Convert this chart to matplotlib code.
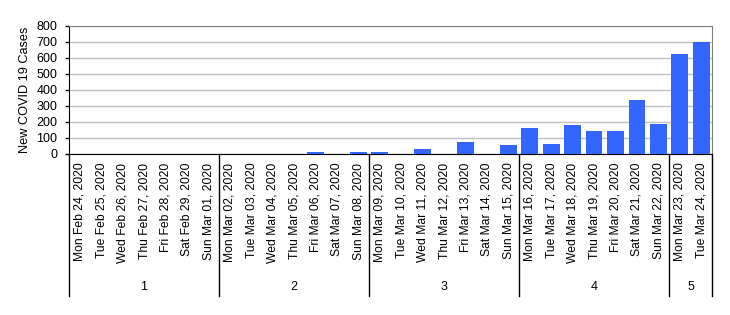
import matplotlib.pyplot as plt
from matplotlib.transforms import blended_transform_factory

plt.rcParams['font.family'] = ['Liberation Sans', 'DejaVu Sans']

# Datos
fechas = [
    'Mon Feb 24, 2020', 'Tue Feb 25, 2020', 'Wed Feb 26, 2020', 'Thu Feb 27, 2020',
    'Fri Feb 28, 2020', 'Sat Feb 29, 2020', 'Sun Mar 01, 2020',
    'Mon Mar 02, 2020', 'Tue Mar 03, 2020', 'Wed Mar 04, 2020', 'Thu Mar 05, 2020',
    'Fri Mar 06, 2020', 'Sat Mar 07, 2020', 'Sun Mar 08, 2020',
    'Mon Mar 09, 2020', 'Tue Mar 10, 2020', 'Wed Mar 11, 2020', 'Thu Mar 12, 2020',
    'Fri Mar 13, 2020', 'Sat Mar 14, 2020', 'Sun Mar 15, 2020',
    'Mon Mar 16, 2020', 'Tue Mar 17, 2020', 'Wed Mar 18, 2020', 'Thu Mar 19, 2020',
    'Fri Mar 20, 2020', 'Sat Mar 21, 2020', 'Sun Mar 22, 2020',
    'Mon Mar 23, 2020', 'Tue Mar 24, 2020',
]
casos = [0, 0, 0, 0, 0, 0, 0,
         0, 0, 0, 0, 7, 0, 7,
         7, 0, 26, 0, 71, 0, 53,
         160, 59, 179, 141, 141, 336, 185,
         626, 702]
semanas = ['1', '2', '3', '4', '5']
dias_por_semana = [7, 7, 7, 7, 2]

fig = plt.figure(figsize=(7.3, 3.15), dpi=100)
ax = fig.add_axes([69 / 730, 1 - 153.5 / 315, (712 - 69) / 730, 127.5 / 315])

x = list(range(len(fechas)))
ax.bar(x, casos, width=0.78, color='#3366FF', zorder=3)

ax.set_xlim(-0.5, len(fechas) - 0.5)
ax.set_ylim(0, 800)
ax.set_yticks(range(0, 801, 100))
ax.yaxis.grid(True, color='#C0C0C0', linewidth=1, zorder=0)
ax.set_axisbelow(True)

ax.set_xticks(x)
ax.set_xticklabels(fechas, rotation=90, fontsize=8.7)
ax.tick_params(axis='x', length=0, pad=6.5)
ax.tick_params(axis='y', length=3, width=1, labelsize=9, pad=5.5, color='black')
ax.set_ylabel('New COVID 19 Cases', fontsize=9.2, labelpad=4)

for lado in ['top', 'right']:
    ax.spines[lado].set_color('#808080')
for lado in ['left', 'bottom']:
    ax.spines[lado].set_color('black')

# Separadores y etiquetas de semana bajo el eje
trans = blended_transform_factory(ax.transData, ax.transAxes)
inicio = -0.5
ax.plot([inicio, inicio], [0, -1.118], color='black', linewidth=1,
        transform=trans, clip_on=False)
for semana, n in zip(semanas, dias_por_semana):
    fin = inicio + n
    ax.plot([fin, fin], [0, -1.118], color='black', linewidth=1,
            transform=trans, clip_on=False)
    ax.text((inicio + fin) / 2, -1.045, semana, transform=trans,
            ha='center', va='center', fontsize=9)
    inicio = fin

fig.savefig('out.png', dpi=100)
